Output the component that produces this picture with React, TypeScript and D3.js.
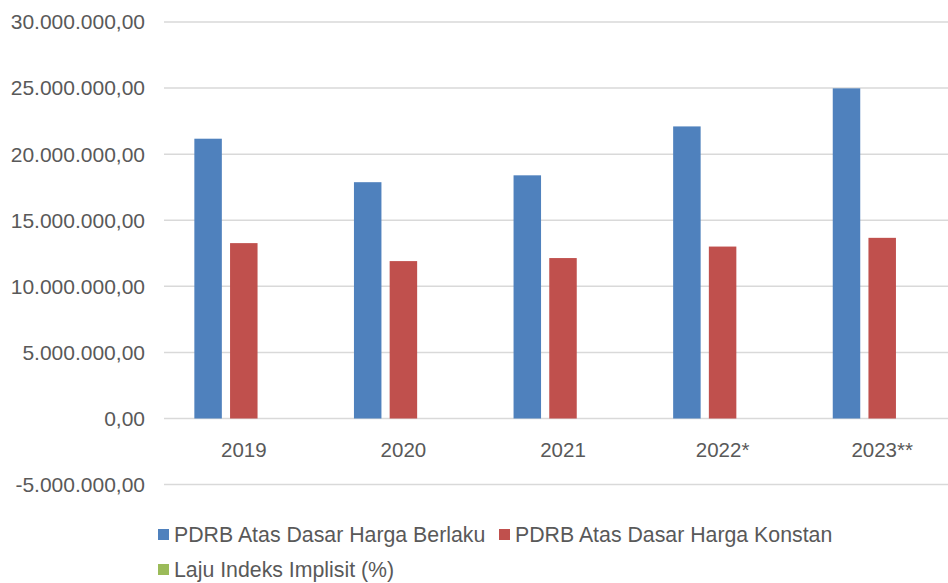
import React, { useEffect, useRef } from "react";
import * as d3 from "d3";

const categories = ["2019", "2020", "2021", "2022*", "2023**"];
const seriesNames = [
  "PDRB Atas Dasar Harga Berlaku",
  "PDRB Atas Dasar Harga Konstan",
  "Laju Indeks Implisit (%)",
];
const berlaku = [21170000, 17880000, 18400000, 22100000, 24980000];
const konstan = [13270000, 11910000, 12140000, 13010000, 13670000];
const lajuIndeks = [2.9, -1.0, 1.3, 4.4, 3.0];
const yTicks = [-5000000, 0, 5000000, 10000000, 15000000, 20000000, 25000000, 30000000];
const colors = ["#4F81BD", "#C0504D", "#9BBB59"];

const fmt = (v: number) => {
  const neg = v < 0;
  const s = Math.abs(v).toFixed(0).replace(/\B(?=(\d{3})+(?!\d))/g, ".");
  return (neg ? "-" : "") + s + ",00";
};

export default function App() {
  const svgRef = useRef<SVGSVGElement | null>(null);

  useEffect(() => {
    const width = 948;
    const height = 583;
    const svg = d3.select(svgRef.current);
    svg.selectAll("*").remove();
    svg.attr("width", width).attr("height", height);

    const plotLeft = 164;
    const plotRight = 962;

    const y = d3.scaleLinear().domain([-5000000, 30000000]).range([484.6, 22]);
    const x0 = d3.scaleBand<string>().domain(categories).range([plotLeft, plotRight]);
    const x1 = d3
      .scaleBand<string>()
      .domain(seriesNames)
      .range([0, x0.bandwidth()])
      .paddingInner(0.23)
      .paddingOuter(0.85);

    const font = "'Liberation Sans', Arial, sans-serif";

    // grid lines
    svg
      .append("g")
      .selectAll("line")
      .data(yTicks)
      .join("line")
      .attr("x1", plotLeft)
      .attr("x2", width)
      .attr("y1", (d) => y(d))
      .attr("y2", (d) => y(d))
      .attr("stroke", "#D9D9D9")
      .attr("stroke-width", 1.5);

    // y tick labels
    svg
      .append("g")
      .selectAll("text")
      .data(yTicks)
      .join("text")
      .attr("x", 145)
      .attr("y", (d) => y(d))
      .attr("dy", "0.35em")
      .attr("text-anchor", "end")
      .attr("font-family", font)
      .attr("font-size", 21)
      .attr("fill", "#595959")
      .text((d) => fmt(d));

    const table = categories.map((c, i) => ({
      cat: c,
      values: [berlaku[i], konstan[i], lajuIndeks[i]],
    }));

    const groups = svg
      .append("g")
      .selectAll("g")
      .data(table)
      .join("g")
      .attr("transform", (d) => `translate(${x0(d.cat)},0)`);

    groups
      .selectAll("rect")
      .data((d) => d.values.map((v, j) => ({ v, s: seriesNames[j], j })))
      .join("rect")
      .attr("x", (d) => x1(d.s) as number)
      .attr("width", x1.bandwidth())
      .attr("y", (d) => Math.min(y(d.v), y(0)))
      .attr("height", (d) => Math.abs(y(d.v) - y(0)))
      .attr("fill", (d) => colors[d.j]);

    // category labels
    svg
      .append("g")
      .selectAll("text")
      .data(categories)
      .join("text")
      .attr("x", (d) => (x0(d) as number) + x0.bandwidth() / 2)
      .attr("y", 450)
      .attr("dy", "0.35em")
      .attr("text-anchor", "middle")
      .attr("font-family", font)
      .attr("font-size", 20.5)
      .attr("fill", "#595959")
      .text((d) => d);

    // legend
    const legendItems = [
      { name: seriesNames[0], color: colors[0], x: 158, y: 535 },
      { name: seriesNames[1], color: colors[1], x: 499, y: 535 },
      { name: seriesNames[2], color: colors[2], x: 158, y: 570 },
    ];
    const lg = svg
      .append("g")
      .selectAll("g")
      .data(legendItems)
      .join("g")
      .attr("transform", (d) => `translate(${d.x},${d.y})`);
    lg.append("rect")
      .attr("x", 0)
      .attr("y", -6)
      .attr("width", 11)
      .attr("height", 11)
      .attr("fill", (d) => d.color);
    lg.append("text")
      .attr("x", 16)
      .attr("y", 0)
      .attr("dy", "0.35em")
      .attr("font-family", font)
      .attr("font-size", 21.3)
      .attr("fill", "#595959")
      .text((d) => d.name);
  }, []);

  return (
    <div style={{ position: "absolute", left: 0, top: 0, width: 948, height: 583, background: "#fff" }}>
      <svg ref={svgRef} style={{ display: "block" }}></svg>
    </div>
  );
}
